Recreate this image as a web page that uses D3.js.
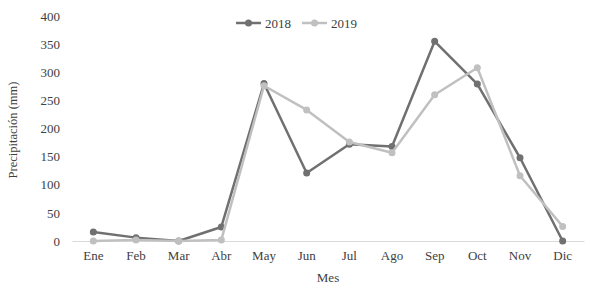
<!DOCTYPE html>
<html>
<head>
<meta charset="utf-8">
<script src="https://cdn.jsdelivr.net/npm/d3@7"></script>
<style>
  body { margin: 0; background: #fff; }
</style>
</head>
<body>
<svg width="589" height="289"></svg>
<script>
const months = ['Ene','Feb','Mar','Abr','May','Jun','Jul','Ago','Sep','Oct','Nov','Dic']
const years = ['2018', '2019']
const values2018 = [16, 6, 0, 25, 280, 121, 172, 168, 355, 279, 148, 0]
const values2019 = [0, 2, 0, 2, 276, 233, 176, 157, 260, 308, 116, 26]
const yTicks = [0, 50, 100, 150, 200, 250, 300, 350, 400]

const FONT = '"Liberation Serif", "Times New Roman", "DejaVu Serif", serif'

const svg = d3.select('svg')
const width = +svg.attr('width')
const height = +svg.attr('height')

const margin = {top: 16, right: 5, bottom: 48, left: 72}
const innerWidth = width - margin.left - margin.right
const innerHeight = height - margin.top - margin.bottom

const series = [
  {name: years[0], values: values2018, color: '#707070'},
  {name: years[1], values: values2019, color: '#c0c0c0'}
]

const xScale = d3.scaleBand().domain(months).range([0, innerWidth])
const yScale = d3.scaleLinear().domain([0, 400]).range([innerHeight, 0])

const g = svg.append('g')
  .attr('transform', `translate(${margin.left},${margin.top})`)

// y axis labels (no line)
const yAxis = d3.axisLeft(yScale).tickValues(yTicks).tickSize(0).tickPadding(12)
g.append('g').call(yAxis)
  .attr('font-family', FONT)
  .call(s => s.select('.domain').remove())
  .selectAll('text').style('font-family', FONT).style('font-size', '13px').attr('fill', '#404040')

// x axis
const xAxis = d3.axisBottom(xScale).tickSize(0).tickPadding(10)
g.append('g')
  .attr('transform', `translate(0,${innerHeight})`)
  .call(xAxis)
  .attr('font-family', FONT)
  .call(s => s.select('.domain').attr('stroke', '#d9d9d9').attr('stroke-width', 1))
  .selectAll('text').style('font-family', FONT).style('font-size', '13px').attr('fill', '#404040')

// lines
const line = d3.line()
  .x((d, i) => xScale(months[i]) + xScale.bandwidth() / 2)
  .y(d => yScale(d))

series.forEach(s => {
  g.append('path')
    .datum(s.values)
    .attr('fill', 'none')
    .attr('stroke', s.color)
    .attr('stroke-width', 2.5)
    .attr('stroke-linejoin', 'round')
    .attr('d', line)
  g.selectAll(null)
    .data(s.values)
    .enter().append('circle')
      .attr('cx', (d, i) => xScale(months[i]) + xScale.bandwidth() / 2)
      .attr('cy', d => yScale(d))
      .attr('r', 3.5)
      .attr('fill', s.color)
})

// axis titles
svg.append('text')
  .text('Mes')
  .attr('text-anchor', 'middle')
  .attr('x', 328)
  .attr('y', 282)
  .attr('fill', '#404040')
  .style('font-family', FONT)
  .style('font-size', '13px')

svg.append('text')
  .text('Precipitación (mm)')
  .attr('text-anchor', 'middle')
  .attr('transform', 'translate(17,130) rotate(-90)')
  .attr('fill', '#404040')
  .style('font-family', FONT)
  .style('font-size', '12.5px')

// legend
const legend = svg.append('g').attr('transform', 'translate(236,23)')
series.forEach((s, i) => {
  const lg = legend.append('g').attr('transform', `translate(${i * 66},0)`)
  lg.append('line').attr('x1', 0).attr('x2', 25).attr('y1', 0).attr('y2', 0)
    .attr('stroke', s.color).attr('stroke-width', 2.5)
  lg.append('circle').attr('cx', 12.5).attr('cy', 0).attr('r', 3.5).attr('fill', s.color)
  lg.append('text').text(s.name).attr('x', 29).attr('y', 4.5)
    .attr('fill', '#404040')
    .style('font-family', FONT).style('font-size', '13px')
})
</script>
</body>
</html>
